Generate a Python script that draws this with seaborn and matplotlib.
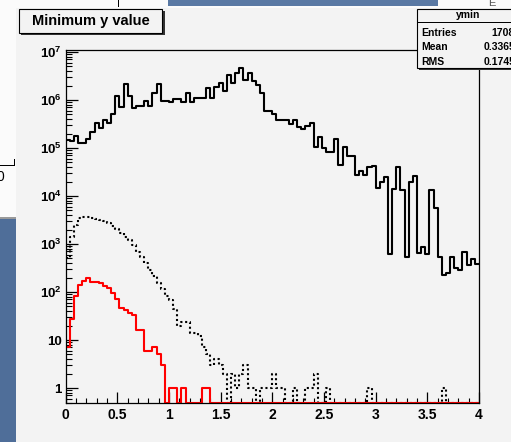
import numpy as np
import pandas as pd
import matplotlib
matplotlib.use("Agg")
import matplotlib.pyplot as plt
import matplotlib.ticker as mticker
from matplotlib.patches import Rectangle
import seaborn as sns

# 100 bins of 0.04 between 0 and 4, counts per bin
bin_edges = list(np.linspace(0, 4, 101))

all_counts = [
    146800, 140000, 177800, 125300, 125300, 156300, 218800, 336800, 257200, 383000,
    336800, 503700, 1230000, 704700, 2123000, 1211000, 671500, 750000, 750000, 939000,
    750000, 1419000, 2123000, 966000, 966000, 922000, 1035000, 1035000, 922000, 1419000,
    922000, 1084000, 1084000, 1117000, 1754000, 1117000, 1892000, 2291000, 1563000, 3318000,
    2228000, 3707000, 4571000, 2610000, 3597000, 2522000, 2053000, 1379000, 598000, 598000,
    511000, 383000, 383000, 383000, 316000, 383000, 278000, 245000, 287000, 327000,
    103500, 171800, 98600, 83800, 83800, 151800, 44200, 106400, 68100, 68100,
    27400, 33700, 27400, 40800, 42200, 14500, 19900, 24500, 619, 14000,
    39600, 13300, 544, 19900, 26500, 659, 879, 619, 13300, 5540,
    528, 226, 252, 528, 312, 287, 691, 365, 487, 383,
]

dotted_counts = [
    511, 1419, 2489, 3430, 3704, 3704, 3532, 3318, 3162, 2970,
    2700, 2405, 2023, 1671, 1419, 1211, 953, 691, 528, 396,
    287, 215, 156, 114, 83, 68, 44, 20, 24, 24,
    14, 14, 12, 7, 5, 3, 4, 3, 2, 0,
    2, 1, 2, 3, 1, 1, 0, 1, 1, 1,
    2, 1, 1, 0, 0, 1, 0, 0, 1, 1,
    2, 0, 0, 1, 0, 0, 0, 0, 0, 0,
    0, 0, 0, 1, 0, 0, 0, 0, 0, 0,
    0, 0, 0, 0, 0, 0, 0, 0, 0, 0,
    0, 1, 0, 0, 0, 0, 0, 0, 0, 0,
]

red_counts = [
    7, 28, 83, 140, 170, 193, 164, 164, 152, 133,
    119, 94, 70, 46, 42, 36, 33, 16, 16, 6,
    6, 7, 5, 3, 0, 1, 1, 0, 1, 0,
    0, 0, 0, 1, 1, 0, 0, 0, 0, 0,
] + [0] * 60

title = "Minimum y value"
stats_name = "ymin"
stats_rows = [("Entries", "1708"), ("Mean", "0.3365"), ("RMS", "0.1745")]

W, H = 511, 442
BG = "#f3f3f3"
y_floor, y_top = 0.5, 1.1e7

plt.rcParams["font.family"] = ["Liberation Sans", "DejaVu Sans"]
plt.rcParams["mathtext.fontset"] = "custom"
plt.rcParams["mathtext.bf"] = "Liberation Sans:bold"
plt.rcParams["mathtext.rm"] = "Liberation Sans:bold"

fig = plt.figure(figsize=(W / 100, H / 100), dpi=100, facecolor=BG)


def frect(x0, y0, x1, y1, **kw):
    # rectangle given in pixel coords (origin top-left)
    r = Rectangle((x0 / W, 1 - y1 / H), (x1 - x0) / W, (y1 - y0) / H,
                  transform=fig.transFigure, **kw)
    fig.patches.append(r)
    return r


def ftext(x, y, s, **kw):
    fig.text(x / W, 1 - y / H, s, **kw)


# bits of other windows around the canvas
frect(0, 0, W, 7.5, facecolor="#fbfbfb", edgecolor="none")
frect(0, 0, 15.5, 218, facecolor="#fbfbfb", edgecolor="none")
frect(168, 0, 438, 6, facecolor="#5a79a4", edgecolor="none")
frect(117.5, 0, 118.7, 7, facecolor="black", edgecolor="none")
frect(0, 217, 15.5, 218.5, facecolor="#9a9a9a", edgecolor="none")
frect(0, 218.5, 15.5, H, facecolor="#4f6e99", edgecolor="none")
frect(0, 164.5, 15, 165.8, facecolor="black", edgecolor="none")
frect(13.8, 159.5, 15, 165.8, facecolor="black", edgecolor="none")
ftext(0.5, 177, "0", fontsize=10, ha="center", va="center")
ftext(492, 3, "E", fontsize=8, color="#555555", ha="center", va="center")

ax = fig.add_axes([65.7 / W, 1 - 402.5 / H, (479 - 65.7) / W, (402.5 - 50) / H])
ax.set_facecolor(BG)

centers = (np.array(bin_edges[:-1]) + np.array(bin_edges[1:])) / 2


def on_floor(c):
    # empty bins sit on the bottom of the log axis, like ROOT draws them
    c = np.asarray(c, dtype=float)
    return np.where(c > 0, c, y_floor)


hist_df = pd.DataFrame({
    "ymin": centers,
    "all": on_floor(all_counts),
    "dotted": on_floor(dotted_counts),
    "red": on_floor(red_counts),
})

sns.histplot(data=hist_df, x="ymin", weights="all", bins=bin_edges,
             element="step", fill=False, color="black", linewidth=1.5, ax=ax)
sns.histplot(data=hist_df, x="ymin", weights="dotted", bins=bin_edges,
             element="step", fill=False, color="black", linewidth=1.5,
             linestyle=(0, (1, 1.3)), ax=ax)
sns.histplot(data=hist_df, x="ymin", weights="red", bins=bin_edges,
             element="step", fill=False, color="red", linewidth=1.5, ax=ax)

ax.set_yscale("log")
ax.set_xlim(0, 4)
ax.set_ylim(y_floor, y_top)
ax.set_xlabel("")
ax.set_ylabel("")

for s in ax.spines.values():
    s.set_linewidth(0.9)
    s.set_color("black")

ax.xaxis.set_major_locator(mticker.MultipleLocator(0.5))
ax.xaxis.set_minor_locator(mticker.MultipleLocator(0.1))
ax.xaxis.set_major_formatter(mticker.FuncFormatter(lambda v, p: "%g" % v))
ax.yaxis.set_major_locator(mticker.FixedLocator([10.0 ** n for n in range(8)]))
ax.yaxis.set_minor_locator(mticker.FixedLocator(
    [m * 10.0 ** n for n in range(-1, 7) for m in range(2, 10)]))
ax.yaxis.set_minor_formatter(mticker.NullFormatter())


def ylab(v, p):
    n = int(round(np.log10(v)))
    if n == 0:
        return "1"
    if n == 1:
        return "10"
    return r"$\mathbf{10^{%d}}$" % n


ax.yaxis.set_major_formatter(mticker.FuncFormatter(ylab))
ax.tick_params(axis="x", which="major", direction="in", length=8, width=0.9,
               pad=4, labelsize=10, top=False)
ax.tick_params(axis="x", which="minor", direction="in", length=3.6, width=0.8, top=False)
ax.tick_params(axis="y", which="major", direction="in", length=8.5, width=0.9,
               pad=3, labelsize=9.5, right=False)
ax.tick_params(axis="y", which="minor", direction="in", length=4.5, width=0.8, right=False)
for lab in ax.get_xticklabels() + ax.get_yticklabels():
    lab.set_fontweight("bold")

# title box with shadow
frect(21, 11, 164.5, 35, facecolor="#333333", edgecolor="none")
frect(19, 9, 162, 33, facecolor=BG, edgecolor="black", linewidth=0.8)
ftext(90.5, 21.5, title, fontsize=10.5, fontweight="bold", ha="center", va="center")

# stats box, runs off the right edge
frect(419, 11, W + 5, 70, facecolor="#333333", edgecolor="none")
frect(417, 9, W + 5, 68, facecolor=BG, edgecolor="black", linewidth=0.8)
frect(417, 21.6, W, 22.5, facecolor="black", edgecolor="none")
ftext(468, 15.5, stats_name, fontsize=7.5, fontweight="bold", ha="center", va="center")
for i, (k, v) in enumerate(stats_rows):
    yy = 33 + i * 14.5
    ftext(421, yy, k, fontsize=7.5, fontweight="bold", ha="left", va="center")
    ftext(515, yy, v, fontsize=7.5, fontweight="bold", ha="right", va="center")

fig.savefig("out.png", dpi=100, facecolor=fig.get_facecolor())
